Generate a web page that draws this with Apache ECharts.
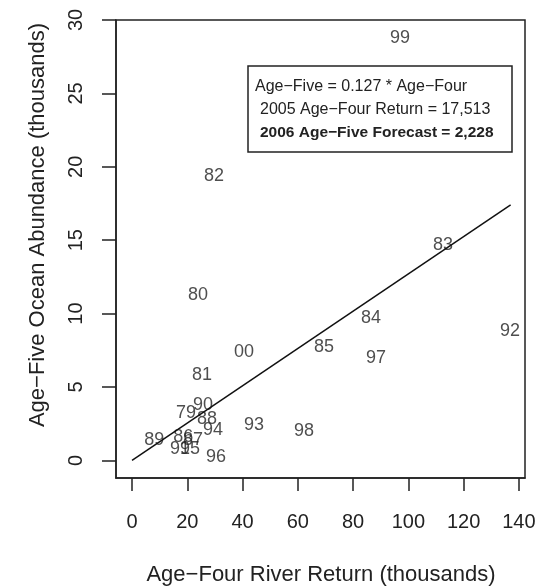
<!DOCTYPE html>
<html>
<head>
    <meta charset="utf-8">
    <title></title>
    <style>
        body{ margin: 0; background: #fff; }
        #main{ width: 540px; height: 588px; }
    </style>
    <script src="https://cdn.jsdelivr.net/npm/echarts@6/dist/echarts.min.js"></script>
</head>
<body>
<div id="main"></div>
<script>
    // years (labels) and their positions
    var years   = ['99','82','80','83','84','92','85','97','00','81','90','79','88','93','98','94','86','87','89','91','95','96'];
    var riverX  = [97, 29.7, 23.9, 112.5, 86.5, 136.8, 69.5, 88.3, 40.5, 25.3, 25.7, 19.5, 27.1, 44.1, 62.2, 29.3, 18.5, 22.1, 8.0, 17.4, 21.0, 30.4];
    var oceanY  = [28.8, 19.4, 11.25, 14.7, 9.7, 8.8, 7.7, 6.95, 7.4, 5.8, 3.75, 3.2, 2.8, 2.4, 2.0, 2.1, 1.6, 1.4, 1.4, 0.75, 0.8, 0.2];
    // regression line end points (y = 0.127 x)
    var fitX = [0, 137];
    var fitY = [0, 17.4];
    var xTicks = [0, 20, 40, 60, 80, 100, 120, 140];
    var yTicks = [0, 5, 10, 15, 20, 25, 30];
    var boxLines = ['Age\u2212Five = 0.127 * Age\u2212Four', '2005 Age\u2212Four Return = 17,513', '2006 Age\u2212Five Forecast = 2,228'];

    var font = '"Liberation Sans", Arial, sans-serif';
    var pts = [];
    for (var i = 0; i < years.length; i++) {
        pts.push([riverX[i], oceanY[i], years[i]]);
    }
    var fit = [];
    for (var j = 0; j < fitX.length; j++) {
        fit.push([fitX[j], fitY[j]]);
    }

    var option = {
        animation: false,
        grid: { left: 116, right: 15, top: 20, bottom: 110, show: true, borderColor: '#222', borderWidth: 1.5 },
        xAxis: {
            type: 'value', min: -5.8, max: 142.2,
            splitLine: { show: false },
            axisLine: { show: true, onZero: false, lineStyle: { color: '#222', width: 1.5 } },
            axisTick: { show: true, inside: false, length: 13, customValues: xTicks, lineStyle: { color: '#222', width: 1.5 } },
            axisLabel: { customValues: xTicks, margin: 34, fontSize: 20, color: '#222', fontFamily: font }
        },
        yAxis: {
            type: 'value', min: -1.2, max: 30,
            splitLine: { show: false },
            axisLine: { show: true, onZero: false, lineStyle: { color: '#222', width: 1.5 } },
            axisTick: { show: true, inside: false, length: 14, customValues: yTicks, lineStyle: { color: '#222', width: 1.5 } },
            axisLabel: { customValues: yTicks, rotate: 90, margin: 30, fontSize: 20, color: '#222', fontFamily: font }
        },
        series: [
            {
                type: 'line',
                data: fit,
                symbol: 'none',
                lineStyle: { color: '#111', width: 1.5 }
            },
            {
                type: 'scatter',
                data: pts,
                symbolSize: 0,
                label: {
                    show: true, position: 'inside',
                    formatter: function (p) { return p.data[2]; },
                    fontSize: 18, color: '#222', fontFamily: font
                }
            }
        ],
        graphic: [
            { type: 'rect', shape: { x: 248, y: 66, width: 264, height: 86 }, style: { fill: '#fff', stroke: '#222', lineWidth: 1.5 } },
            { type: 'text', x: 255, y: 87, style: { text: boxLines[0], font: '16px ' + font, fill: '#222', verticalAlign: 'middle' } },
            { type: 'text', x: 260, y: 110, style: { text: boxLines[1], font: '16px ' + font, fill: '#222', verticalAlign: 'middle' } },
            { type: 'text', x: 260, y: 133, style: { text: boxLines[2], font: 'bold 15.5px ' + font, fill: '#222', verticalAlign: 'middle' } },
            { type: 'text', x: 321, y: 575, style: { text: 'Age\u2212Four River Return (thousands)', font: '22px ' + font, fill: '#222', align: 'center', verticalAlign: 'middle' } },
            { type: 'text', x: 38, y: 225, rotation: Math.PI / 2, style: { text: 'Age\u2212Five Ocean Abundance (thousands)', font: '22px ' + font, fill: '#222', align: 'center', verticalAlign: 'middle' } }
        ]
    };
    var myChart = echarts.init(document.getElementById('main'));
    myChart.setOption(option);
</script>
</body>
</html>
